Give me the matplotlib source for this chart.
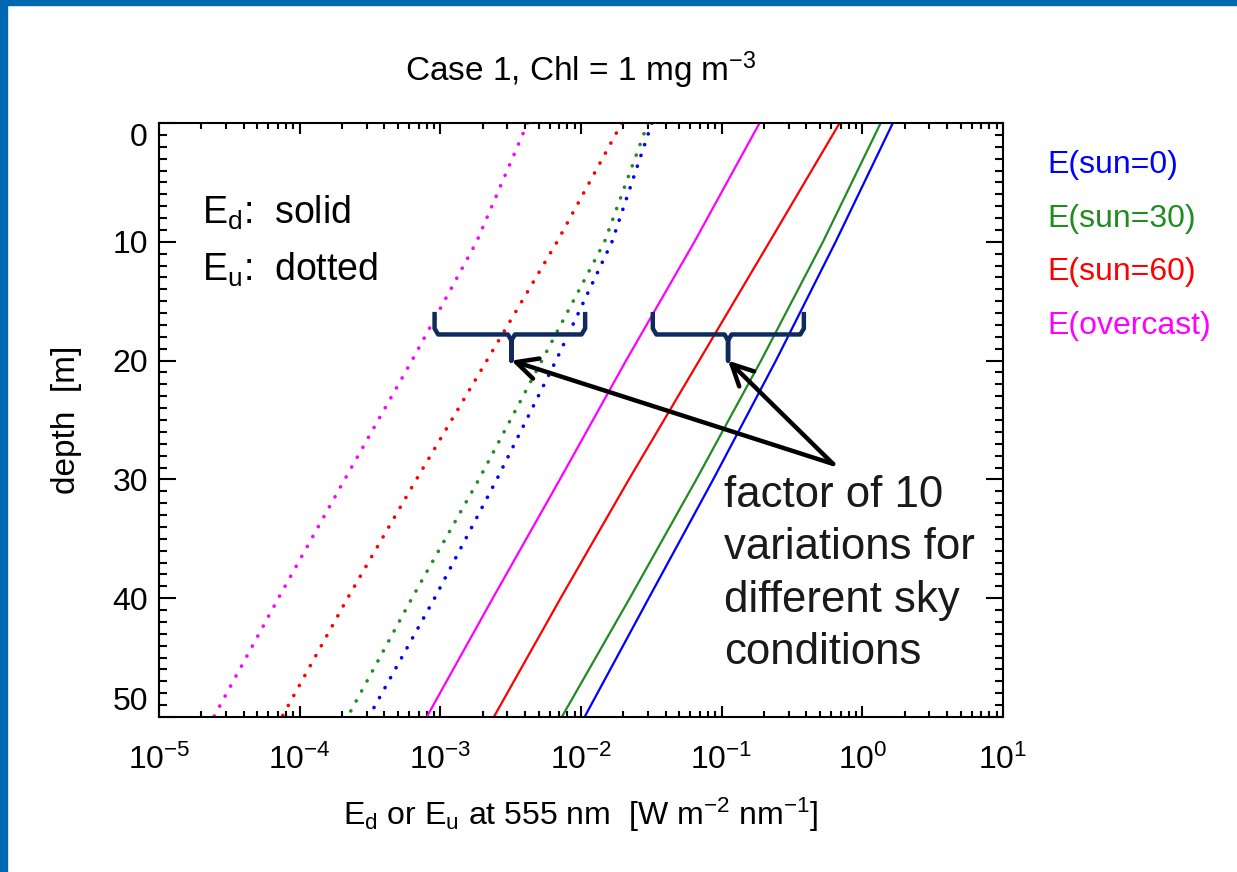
import matplotlib
matplotlib.use("Agg")
import matplotlib.pyplot as plt
import matplotlib.ticker as ticker
from matplotlib.patches import Rectangle
import numpy as np

plt.rcParams['font.family'] = ['Liberation Sans', 'DejaVu Sans']
plt.rcParams['mathtext.fontset'] = 'custom'
plt.rcParams['mathtext.rm'] = 'Liberation Sans'
plt.rcParams['mathtext.it'] = 'Liberation Sans'
plt.rcParams['mathtext.default'] = 'regular'

# depth grid [m]
depth = [0, 10, 20, 30, 40, 50]

# downwelling irradiance E_d (solid) at 555 nm
ed_sun0 = [1.648, 0.646, 0.243, 0.0871, 0.0303, 0.0106]
ed_sun30 = [1.35, 0.525, 0.1905, 0.0661, 0.0222, 0.0073]
ed_sun60 = [0.69, 0.219, 0.0692, 0.0219, 0.00716, 0.0024]
ed_overcast = [0.186, 0.064, 0.0209, 0.00708, 0.00236, 0.0008]

# upwelling irradiance E_u (dotted)
eu_sun0 = [0.0319, 0.0166, 0.00664, 0.00252, 0.00091, 0.00031]
eu_sun30 = [0.0299, 0.0147, 0.00527, 0.00188, 0.000628, 0.000219]
eu_sun60 = [0.0195, 0.00676, 0.00214, 0.000676, 0.000219, 0.0000748]
eu_overcast = [0.00417, 0.00181, 0.000628, 0.000209, 0.0000706, 0.0000245]

series_names = ['E(sun=0)', 'E(sun=30)', 'E(sun=60)', 'E(overcast)']
series_colors = ['#0000FF', '#228B22', '#FF0000', '#FF00FF']
x_ticks = [1e-5, 1e-4, 1e-3, 1e-2, 1e-1, 1e0, 1e1]
y_ticks = [0, 10, 20, 30, 40, 50]

fig = plt.figure(figsize=(12.37, 8.72), dpi=100)
# slide frame
fig.patches.append(Rectangle((0, 1 - 5 / 872), 1, 5 / 872, transform=fig.transFigure,
                             color='#0067B1', zorder=0))
fig.patches.append(Rectangle((0, 0), 7 / 1237, 1, transform=fig.transFigure,
                             color='#0067B1', zorder=0))

ax = fig.add_axes([159 / 1237, 1 - 717 / 872, 844 / 1237, 594 / 872])

ed_all = [ed_sun0, ed_sun30, ed_sun60, ed_overcast]
eu_all = [eu_sun0, eu_sun30, eu_sun60, eu_overcast]
for ed, eu, c in zip(ed_all, eu_all, series_colors):
    ax.plot(ed, depth, color=c, lw=1.6)
    ax.plot(eu, depth, color=c, lw=2.6, linestyle=(0, (0.05, 3.1)), dash_capstyle='round')

ax.set_xscale('log')
ax.set_xlim(1e-5, 1e1)
ax.set_ylim(50, 0)
ax.set_xticks(x_ticks)
ax.xaxis.set_major_formatter(ticker.FuncFormatter(
    lambda v, p: r'$10^{%d}$' % int(round(np.log10(v)))))
ax.xaxis.set_minor_locator(ticker.LogLocator(base=10, subs=np.arange(2, 10), numticks=20))
ax.xaxis.set_minor_formatter(ticker.NullFormatter())
ax.set_yticks(y_ticks)
ax.yaxis.set_minor_locator(ticker.MultipleLocator(1))

ax.tick_params(axis='both', which='both', direction='in', top=True, right=True, width=1.5,
               labelsize=23)
ax.tick_params(axis='x', which='major', length=8, pad=20)
ax.tick_params(axis='x', which='minor', length=4.5)
ax.tick_params(axis='y', which='major', length=12, pad=8)
ax.tick_params(axis='y', which='minor', length=6)
for s in ax.spines.values():
    s.set_linewidth(1.5)

yt = ax.yaxis.get_major_ticks()
yt[0].label1.set_va('top')
yt[-1].label1.set_va('bottom')

ax.set_title(r'Case 1, Chl = 1 mg m$^{-3}$', fontsize=24, pad=30)
ax.set_xlabel(r'E$_d$ or E$_u$ at 555 nm  [W m$^{-2}$ nm$^{-1}$]', fontsize=23, labelpad=14)
ax.set_ylabel('depth  [m]', fontsize=24, labelpad=22)

# line style key
ax.text(0.051, 0.848, r'E$_d$:  solid', transform=ax.transAxes, fontsize=27, va='center')
ax.text(0.051, 0.753, r'E$_u$:  dotted', transform=ax.transAxes, fontsize=27, va='center')

# colour key outside
for i, (name, c) in enumerate(zip(series_names, series_colors)):
    ax.text(1.052, 0.929 - i * 0.09, name, color=c, transform=ax.transAxes,
            fontsize=23, va='center', ha='left')

# braces marking the spread between sky conditions
brace_color = '#0F2A5C'
brace_spans = [(9.1e-4, 3.2e-3, 1.07e-2), (3.24e-2, 0.111, 0.384)]
for lo, mid, hi in brace_spans:
    f = 1.06
    xs = [lo, lo, lo * f, mid / f, mid, mid, mid, mid * f, hi / f, hi, hi]
    ys = [15.9, 17.3, 17.8, 17.8, 18.3, 20.0, 18.3, 17.8, 17.8, 17.3, 15.9]
    ax.plot(xs, ys, color=brace_color, lw=3.2, solid_joinstyle='round',
            solid_capstyle='butt', zorder=5)

arrow_start = (0.62, 28.7)
for lo, mid, hi in brace_spans:
    ax.annotate('', xy=(mid, 20.0), xytext=arrow_start,
                arrowprops=dict(arrowstyle='->', lw=3.2, color='black',
                                mutation_scale=38, shrinkA=0, shrinkB=0), zorder=6)

ax.text(0.104, 29.6, 'factor of 10\nvariations for\ndifferent sky\nconditions',
        fontsize=31.5, va='top', ha='left', linespacing=1.36, color='#1a1a1a')

fig.savefig('out.png', dpi=100)
